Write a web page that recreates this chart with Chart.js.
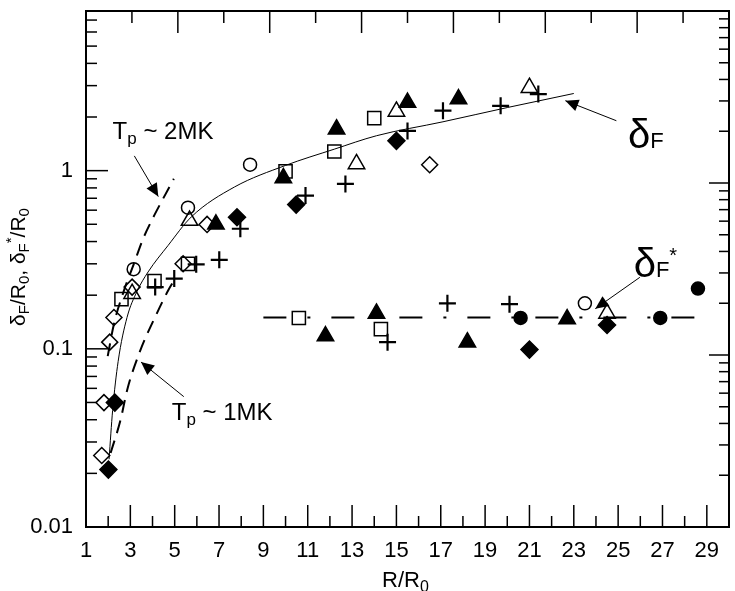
<!DOCTYPE html>
<html>
<head>
<meta charset="utf-8">
<script src="https://cdn.jsdelivr.net/npm/chart.js@4.4.1/dist/chart.umd.min.js"></script>
<style>
  html, body { margin: 0; padding: 0; overflow: hidden; background: #fff; }
  #wrap { width: 740px; height: 591px; }
</style>
</head>
<body>
<div id="wrap"><canvas id="chart"></canvas></div>
<script>
// tick labels
const xTickLabels = [1, 3, 5, 7, 9, 11, 13, 15, 17, 19, 21, 23, 25, 27, 29];
const yTickLabels = [0.01, 0.1, 1];
const topTicks = [2, 4, 6, 8, 10, 12, 14, 16, 18, 20, 22, 24, 26];

// measured points (R/R0, delta/R0)
const openCircleX = [3.15, 5.6, 8.4, 23.5];
const openCircleY = [0.28, 0.62, 1.08, 0.18];
const filledCircleX = [20.6, 26.9, 28.6];
const filledCircleY = [0.149, 0.149, 0.218];
const openSquareX = [2.6, 4.09, 5.6, 10.0, 12.2, 14.0, 10.6, 14.3];
const openSquareY = [0.19, 0.24, 0.30, 0.99, 1.28, 1.97, 0.149, 0.129];
const openTriX = [3.08, 5.67, 13.2, 15.0, 21.0, 24.5];
const openTriY = [0.204, 0.525, 1.09, 2.15, 2.92, 0.158];
const filledTriX = [6.86, 9.9, 12.3, 15.5, 17.8, 11.8, 14.1, 18.2, 22.7];
const filledTriY = [0.50, 0.91, 1.71, 2.41, 2.52, 0.118, 0.158, 0.109, 0.147];
const openDiaX = [1.71, 1.81, 2.07, 2.26, 3.08, 5.38, 6.46, 16.5];
const openDiaY = [0.0252, 0.0499, 0.109, 0.15, 0.222, 0.30, 0.499, 1.08];
const filledDiaX = [2.01, 2.3, 7.81, 10.48, 15.0, 21.0, 24.5];
const filledDiaY = [0.021, 0.0499, 0.548, 0.645, 1.47, 0.099, 0.136];
const plusX = [4.12, 4.98, 5.97, 7.01, 7.96, 10.9, 12.7, 15.5, 17.1, 19.7, 21.4, 14.6, 17.3, 20.1];
const plusY = [0.222, 0.248, 0.298, 0.316, 0.472, 0.725, 0.842, 1.67, 2.17, 2.31, 2.69, 0.109, 0.18, 0.178];

// curves
const fitX = [2.04, 2.2, 2.45, 2.85, 3.3, 3.8, 4.7, 5.75, 7.7, 10, 12.2, 14.1, 17.1, 20, 23];
const fitY = [0.024, 0.045, 0.085, 0.15, 0.21, 0.27, 0.38, 0.55, 0.81, 1.07, 1.32, 1.57, 1.88, 2.26, 2.71];
const mk2X = [1.98, 2.26, 2.7, 3.18, 3.58, 4.03, 4.43, 4.96];
const mk2Y = [0.091, 0.138, 0.21, 0.305, 0.416, 0.546, 0.679, 0.90];
const mk1X = [2.11, 2.56, 2.86, 3.45, 4.12, 4.71, 5.0];
const mk1Y = [0.026, 0.040, 0.059, 0.098, 0.151, 0.213, 0.245];
const starX = [9, 28.5];
const starY = [0.15, 0.15];

const FONT = '"Liberation Sans", Arial, Helvetica, sans-serif';

function pts(xs, ys) {
    return xs.map((x, i) => ({ x: x, y: ys[i] }));
}

function marker(data, style, radius, filled, bw) {
    return {
        data: data,
        showLine: false,
        pointStyle: style,
        pointRadius: radius,
        pointHoverRadius: radius,
        pointBorderWidth: bw || 1.5,
        pointBorderColor: '#000',
        pointBackgroundColor: filled ? '#000' : 'rgba(0,0,0,0)'
    };
}

function curve(data, width, dash) {
    return {
        data: data,
        showLine: true,
        pointRadius: 0,
        borderColor: '#000',
        borderWidth: width,
        borderDash: dash || [],
        tension: 0.4,
        cubicInterpolationMode: 'monotone',
        fill: false
    };
}

// annotations, placed in data coordinates
const notes = [
    { x: 2.2, y: 1.51, parts: [['T', 24, 0], ['p', 17, 5], [' ~ 2MK', 24, 0]] },
    { x: 4.87, y: 0.0398, parts: [['T', 24, 0], ['p', 17, 5], [' ~ 1MK', 24, 0]] },
    { x: 25.44, y: 1.345, parts: [['δ', 40, 0], ['F', 22, 0]] },
    { x: 25.7, y: 0.252, parts: [['δ', 40, 0], ['F', 22, 0], ['*', 20, -15]] }
];
const arrows = [
    { from: [3.18, 1.21], to: [4.26, 0.715] },
    { from: [5.41, 0.0539], to: [3.48, 0.0843] },
    { from: [24.92, 1.906], to: [22.62, 2.47] },
    { from: [25.98, 0.252], to: [23.97, 0.168] }
];

function drawRich(ctx, parts, x, y) {
    let cx = x;
    parts.forEach(function (p) {
        ctx.font = p[1] + 'px ' + FONT;
        ctx.fillText(p[0], cx, y + p[2]);
        cx += ctx.measureText(p[0]).width;
    });
}

function richWidth(ctx, parts) {
    let w = 0;
    parts.forEach(function (p) {
        ctx.font = p[1] + 'px ' + FONT;
        w += ctx.measureText(p[0]).width;
    });
    return w;
}

function line(ctx, x1, y1, x2, y2) {
    ctx.beginPath();
    ctx.moveTo(x1, y1);
    ctx.lineTo(x2, y2);
    ctx.stroke();
}

function arrow(ctx, x1, y1, x2, y2) {
    ctx.lineWidth = 1;
    line(ctx, x1, y1, x2, y2);
    const a = Math.atan2(y2 - y1, x2 - x1);
    const L = 13, W = 6;
    ctx.beginPath();
    ctx.moveTo(x2, y2);
    ctx.lineTo(x2 - L * Math.cos(a) + W * Math.sin(a), y2 - L * Math.sin(a) - W * Math.cos(a));
    ctx.lineTo(x2 - L * Math.cos(a) - W * Math.sin(a), y2 - L * Math.sin(a) + W * Math.cos(a));
    ctx.closePath();
    ctx.fill();
}

// no extra room for half labels at the ends of an axis
function noPad(sc) {
    sc.paddingTop = 0;
    sc.paddingBottom = 0;
    sc.paddingLeft = 0;
    sc.paddingRight = 0;
}

// inward tick marks, annotations and axis titles
const decorations = {
    id: 'decorations',
    afterDraw(chart) {
        const ctx = chart.ctx;
        const a = chart.chartArea;
        const s = chart.scales;
        ctx.save();
        ctx.strokeStyle = '#000';
        ctx.fillStyle = '#000';
        ctx.lineWidth = 1.5;

        // bottom: long at odd, short at even
        for (let v = 1; v <= 30; v++) {
            const px = s.x.getPixelForValue(v);
            line(ctx, px, a.bottom, px, a.bottom - (v % 2 ? 22 : 11));
        }
        // top
        topTicks.forEach(function (v) {
            const px = s.x2.getPixelForValue(v);
            line(ctx, px, a.top, px, a.top + (v % 4 === 0 ? 22 : 12));
        });
        // left and right log ticks
        [0.01, 0.1, 1].forEach(function (d) {
            for (let m = 1; m <= 9; m++) {
                const v = m * d;
                if (v <= s.y.max) {
                    const py = s.y.getPixelForValue(v);
                    line(ctx, a.left, py, a.left + (m === 1 ? 22 : 11), py);
                }
                const pr = s.y2.getPixelForValue(v);
                line(ctx, a.right, pr, a.right - (m === 1 ? 20 : 10), pr);
            }
        });

        // arrows
        arrows.forEach(function (ar) {
            arrow(ctx,
                s.x.getPixelForValue(ar.from[0]), s.y.getPixelForValue(ar.from[1]),
                s.x.getPixelForValue(ar.to[0]), s.y.getPixelForValue(ar.to[1]));
        });

        // labels
        ctx.textBaseline = 'alphabetic';
        ctx.textAlign = 'left';
        notes.forEach(function (n) {
            drawRich(ctx, n.parts, s.x.getPixelForValue(n.x), s.y.getPixelForValue(n.y));
        });

        // x title
        const xt = [['R/R', 22, 0], ['0', 16, 5]];
        drawRich(ctx, xt, (a.left + a.right) / 2 - 2 - richWidth(ctx, xt) / 2, 587);

        // y title
        const yt = [['δ', 21, 0], ['F', 15, 4], ['/R', 21, 0], ['0', 15, 4], [', ', 21, 0],
            ['δ', 21, 0], ['F', 15, 4], ['*', 15, -9], ['/R', 21, 0], ['0', 15, 4]];
        ctx.translate(25, (a.top + a.bottom) / 2 - 2);
        ctx.rotate(-Math.PI / 2);
        drawRich(ctx, yt, -richWidth(ctx, yt) / 2, 0);
        ctx.restore();
    }
};

const ctx = document.getElementById('chart').getContext('2d');
new Chart(ctx, {
    type: 'scatter',
    data: {
        datasets: [
            marker(pts(openCircleX, openCircleY), 'circle', 6.5, false),
            marker(pts(filledCircleX, filledCircleY), 'circle', 6.5, true),
            marker(pts(openSquareX, openSquareY), 'rect', 9.3, false),
            marker(pts(openTriX, openTriY), 'triangle', 9.5, false),
            marker(pts(filledTriX, filledTriY), 'triangle', 9.5, true),
            marker(pts(openDiaX, openDiaY), 'rectRot', 8, false),
            marker(pts(filledDiaX, filledDiaY), 'rectRot', 8.5, true),
            marker(pts(plusX, plusY), 'cross', 8.5, false, 2.2),
            curve(pts(fitX, fitY), 1),
            curve(pts(mk2X, mk2Y), 2, [13, 8]),
            curve(pts(mk1X, mk1Y), 2, [13, 8]),
            curve(pts(starX, starY), 2, [23, 21, 3, 21])
        ]
    },
    options: {
        responsive: true,
        maintainAspectRatio: false,
        animation: false,
        layout: { padding: 0 },
        plugins: { legend: { display: false }, tooltip: { enabled: false } },
        scales: {
            x: {
                type: 'linear',
                position: 'bottom',
                min: 1,
                max: 30,
                afterBuildTicks: function (sc) { sc.ticks = xTickLabels.map(v => ({ value: v })); },
                afterFit: function (sc) { sc.height = 64; noPad(sc); },
                ticks: { color: '#000', font: { size: 22, family: FONT }, padding: 11, maxRotation: 0, autoSkip: false },
                grid: { display: false, drawTicks: false },
                border: { display: true, color: '#000', width: 2 }
            },
            x2: {
                type: 'linear',
                position: 'top',
                min: 0,
                max: 28,
                afterFit: function (sc) { sc.height = 10; noPad(sc); },
                ticks: { display: false },
                grid: { display: false, drawTicks: false },
                border: { display: true, color: '#000', width: 2 }
            },
            y: {
                type: 'logarithmic',
                position: 'left',
                min: 0.01,
                max: 7.87,
                afterBuildTicks: function (sc) { sc.ticks = yTickLabels.map(v => ({ value: v })); },
                afterFit: function (sc) { sc.width = 86; noPad(sc); },
                ticks: {
                    color: '#000', font: { size: 22, family: FONT }, padding: 13, autoSkip: false,
                    callback: function (v) { return String(v); }
                },
                grid: { display: false, drawTicks: false },
                border: { display: true, color: '#000', width: 2 }
            },
            y2: {
                type: 'logarithmic',
                position: 'right',
                min: 0.01,
                max: 10,
                afterFit: function (sc) { sc.width = 2.5; noPad(sc); },
                ticks: { display: false },
                grid: { display: false, drawTicks: false },
                border: { display: true, color: '#000', width: 2 }
            }
        }
    },
    plugins: [decorations]
});
</script>
</body>
</html>
